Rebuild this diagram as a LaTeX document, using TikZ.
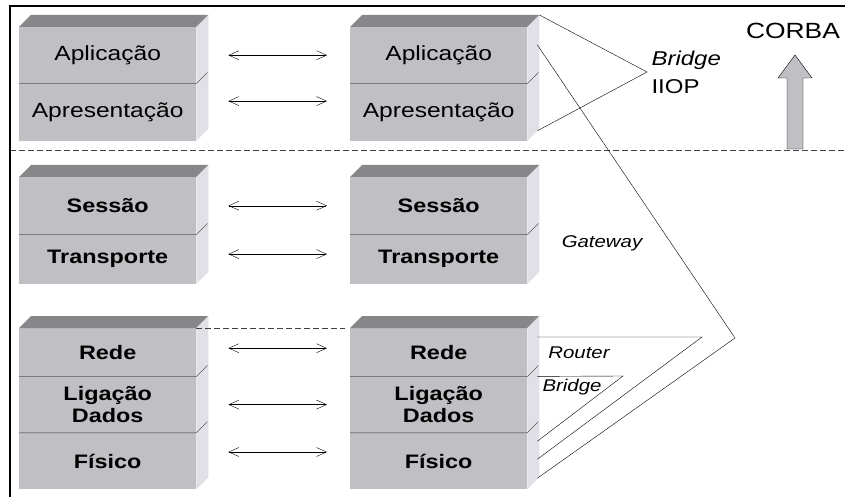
\documentclass[tikz,border=0pt]{standalone}
\usepackage{fontspec}
\setmainfont{Liberation Sans}
\newfontfamily\osifont[FakeStretch=1.2, BoldFont={Liberation Sans Bold}, ItalicFont={Liberation Sans Italic}]{Liberation Sans}
\usepackage{tikz}
\usetikzlibrary{arrows.meta,calc,positioning}
\definecolor{osifront}{RGB}{192,192,196}
\definecolor{ositop}{RGB}{135,135,138}
\definecolor{osiside}{RGB}{224,224,230}
\tikzstyle{layer} = [fill=osifront, minimum width=177pt, inner sep=0pt, align=center]
\tikzstyle{plain} = [font=\osifont\fontsize{20.5}{22}\selectfont]
\tikzstyle{heavy} = [font=\osifont\fontsize{19.5}{22}\selectfont\bfseries]
\tikzstyle{peer} = [<->, >={Straight Barb[length=10pt,width=9pt]}, shorten <=32pt, shorten >=23pt]
\tikzstyle{device} = [font=\osifont\fontsize{17}{20}\selectfont\itshape]

\begin{document}
\begin{tikzpicture}[x=1pt, y=-1pt]
\useasboundingbox[fill=white] (0,0) rectangle (845,497);

% Upper layers
\node[layer, plain, anchor=north west, minimum height=56pt] (apl-l) at (19,27) {Aplicação};
\node[layer, plain, minimum height=57pt, below=0pt of apl-l] (apr-l) {Apresentação};
\node[layer, plain, anchor=north west, minimum height=56pt] (apl-r) at (350,27) {Aplicação};
\node[layer, plain, minimum height=57pt, below=0pt of apl-r] (apr-r) {Apresentação};

% Middle layers
\node[layer, heavy, anchor=north west, minimum height=57pt] (ses-l) at (19,177) {Sessão};
\node[layer, heavy, minimum height=49pt, below=0pt of ses-l] (tra-l) {Transporte};
\node[layer, heavy, anchor=north west, minimum height=57pt] (ses-r) at (350,177) {Sessão};
\node[layer, heavy, minimum height=49pt, below=0pt of ses-r] (tra-r) {Transporte};

% Lower layers
\node[layer, heavy, anchor=north west, minimum height=48pt] (red-l) at (19,328) {Rede};
\node[layer, heavy, minimum height=56pt, below=0pt of red-l] (lig-l) {Ligação\\Dados};
\node[layer, heavy, minimum height=56pt, below=0pt of lig-l] (fis-l) {Físico};
\node[layer, heavy, anchor=north west, minimum height=48pt] (red-r) at (350,328) {Rede};
\node[layer, heavy, minimum height=56pt, below=0pt of red-r] (lig-r) {Ligação\\Dados};
\node[layer, heavy, minimum height=56pt, below=0pt of lig-r] (fis-r) {Físico};

% Top and side faces of the blocks
\foreach \t/\b in {apl-l/apr-l, apl-r/apr-r, ses-l/tra-l, ses-r/tra-r, red-l/fis-l, red-r/fis-r} {
  \fill[ositop] (\t.north west) -- ++(12,-12) -- ($(\t.north east)+(12,-12)$) -- (\t.north east) -- cycle;
  \fill[osiside] (\t.north east) -- ++(12,-12) -- ($(\b.south east)+(12,-12)$) -- (\b.south east) -- cycle;
}
\foreach \n in {apl-l, apl-r, ses-l, ses-r, red-l, red-r, lig-l, lig-r}
  \draw[black!80] (\n.south west) -- (\n.south east) -- ++(11,-11);

% Peer protocols
\foreach \n/\d in {apl/0, apr/11, ses/0, tra/5, red/4, lig/0, fis/9}
  \draw[peer] ([yshift=\d pt]\n-l.east) -- ([yshift=\d pt]\n-r.west);

\draw[dashed, dash pattern=on 6pt off 3pt, black!75] (10,150) -- (845,150);
\draw[dashed, dash pattern=on 6pt off 3pt, black!75] (red-l.north east) -- ([xshift=-5pt]red-r.north west);

% Interconnection devices
\coordinate (iiop) at (647,72);
\coordinate (gw) at (735,338);
\coordinate (rt) at (702,337);
\coordinate (br) at (623,376);
\draw ($(apl-r.north east)+(12,-12)$) -- (iiop) -- ($(apr-r.south east)+(10,-10)$);
\draw ($(apl-r.north east)+(10,18)$) -- (gw) -- ($(fis-r.south east)+(10,-11)$);
\draw ($(red-r.north east)+(10,9)$) -- (rt) -- ($(fis-r.south east)+(10,-30)$);
\draw ($(lig-r.north east)+(10,0)$) -- (br) -- ($(fis-r.south east)+(10,-48)$);

\node[font=\osifont\fontsize{20}{22}\selectfont\itshape, anchor=west] (bridge-iiop) at (648,60) {Bridge};
\node[font=\osifont\fontsize{20}{22}\selectfont, anchor=west] (iiop-txt) at (648,87) {IIOP};
\node[device] (gateway) at (602,243) {Gateway};
\node[device] (router) at (579,353) {Router};
\node[device] (bridge) at (572,387) {Bridge};

% CORBA
\node[font=\osifont\fontsize{22}{24}\selectfont] (corba) at (793,31) {CORBA};
\draw[fill=osifront] (787,149) -- (787,78) -- (778,78) -- (795,55) -- (812,78) -- (803,78) -- (803,149) -- cycle;

% Frame
\draw[line width=2.5pt] (10,497) -- (10,6) -- (845,6);
\end{tikzpicture}
\end{document}
